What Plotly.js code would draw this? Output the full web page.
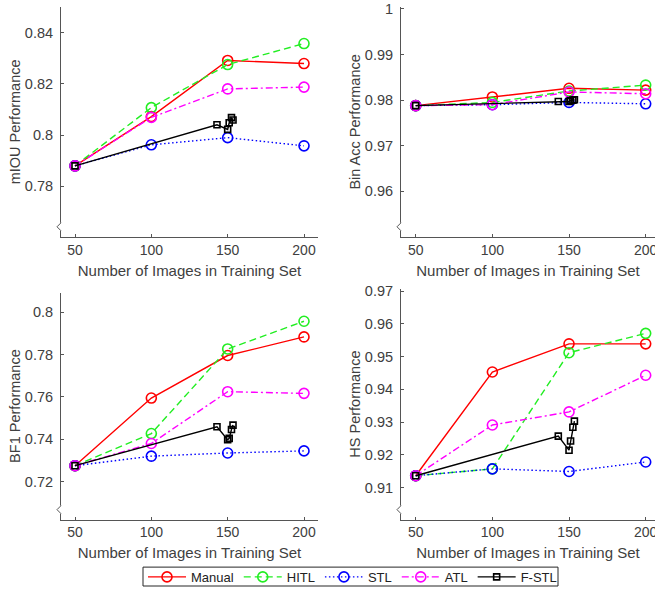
<!DOCTYPE html>
<html><head><meta charset="utf-8">
<script src="https://cdn.plot.ly/plotly-3.0.1.min.js"></script>
<style>html,body{margin:0;padding:0;background:#fff}</style>
</head><body><div id="chart" style="width:655px;height:592px"></div>
<script>
// ---- data ----
const xMain = [50, 100, 150, 200];
const xFstl = [50, 143, 150, 151, 152.5, 153.5];
const seriesNames = ['Manual', 'HITL', 'STL', 'ATL', 'F-STL'];
const xTickVals = [50, 100, 150, 200];

// mIOU
const miouManual = [0.788, 0.8072, 0.8291, 0.8279];
const miouHITL   = [0.788, 0.8107, 0.8275, 0.8357];
const miouSTL    = [0.788, 0.7962, 0.7990, 0.7958];
const miouATL    = [0.788, 0.8069, 0.8180, 0.8187];
const miouFSTL   = [0.788, 0.8040, 0.8022, 0.8048, 0.8068, 0.8059];
const miouTicks  = [0.78, 0.80, 0.82, 0.84];

// Bin Acc
const binManual = [0.9788, 0.9807, 0.9826, 0.9822];
const binHITL   = [0.9788, 0.9795, 0.9820, 0.9833];
const binSTL    = [0.9788, 0.9790, 0.9795, 0.9792];
const binATL    = [0.9788, 0.9790, 0.9818, 0.9814];
const binFSTL   = [0.9788, 0.9797, 0.9797, 0.9799, 0.9800, 0.9801];
const binTicks  = [0.96, 0.97, 0.98, 0.99, 1];

// BF1
const bf1Manual = [0.7275, 0.7595, 0.7796, 0.7884];
const bf1HITL   = [0.7275, 0.7427, 0.7827, 0.7958];
const bf1STL    = [0.7275, 0.7320, 0.7335, 0.7345];
const bf1ATL    = [0.7275, 0.7380, 0.7625, 0.7617];
const bf1FSTL   = [0.7275, 0.7459, 0.7398, 0.7404, 0.7446, 0.7467];
const bf1Ticks  = [0.72, 0.74, 0.76, 0.78, 0.80];

// HS
const hsManual = [0.9136, 0.9453, 0.9539, 0.9539];
const hsHITL   = [0.9136, 0.9157, 0.9512, 0.9571];
const hsSTL    = [0.9136, 0.9157, 0.9149, 0.9178];
const hsATL    = [0.9136, 0.9291, 0.9331, 0.9443];
const hsFSTL   = [0.9136, 0.9257, 0.9214, 0.9242, 0.9284, 0.9303];
const hsTicks  = [0.91, 0.92, 0.93, 0.94, 0.95, 0.96, 0.97];

// ---- styles ----
const styles = {
  'Manual': {color: '#ff0000', dash: 'solid',            symbol: 'circle-open', size: 10},
  'HITL':   {color: '#22ee22', dash: '7px,4px',          symbol: 'circle-open', size: 10},
  'STL':    {color: '#0000ff', dash: '1.5px,2.5px',      symbol: 'circle-open', size: 10},
  'ATL':    {color: '#ff00ff', dash: '7px,3px,2px,3px',  symbol: 'circle-open', size: 10},
  'F-STL':  {color: '#000000', dash: 'solid',            symbol: 'square-open', size: 6}
};

const panels = [
  {ax: '',  data: [miouManual, miouHITL, miouSTL, miouATL, miouFSTL]},
  {ax: '2', data: [binManual, binHITL, binSTL, binATL, binFSTL]},
  {ax: '3', data: [bf1Manual, bf1HITL, bf1STL, bf1ATL, bf1FSTL]},
  {ax: '4', data: [hsManual, hsHITL, hsSTL, hsATL, hsFSTL]}
];

const traces = [];
panels.forEach((p, pi) => {
  seriesNames.forEach((name, si) => {
    const st = styles[name];
    traces.push({
      type: 'scatter', mode: 'lines+markers',
      x: name === 'F-STL' ? xFstl : xMain,
      y: p.data[si],
      name: name, legendgroup: name, showlegend: pi === 0,
      xaxis: 'x' + p.ax, yaxis: 'y' + p.ax,
      line: {color: st.color, dash: st.dash, width: 1.4},
      marker: {symbol: st.symbol, size: st.size, color: st.color, line: {width: 1.6, color: st.color}},
      cliponaxis: false
    });
  });
});

const textCol = '#404040';
const axCol = '#555555';
const font = {family: 'Liberation Sans, Arial, sans-serif', size: 14, color: textCol};

function xa(domain, range) {
  return {domain: domain, range: range, tickvals: xTickVals, ticks: 'inside', ticklen: 3, tickcolor: axCol,
    showline: true, linecolor: axCol, linewidth: 1, showgrid: false, zeroline: false,
    tickfont: {size: 14, color: textCol}, ticklabelstandoff: 0, ticklabeloverflow: 'allow',
    title: {text: 'Number of Images in Training Set', font: {size: 15, color: textCol}, standoff: 8}};
}
function ya(domain, range, ticks, title, anchor) {
  return {domain: domain, range: range, tickvals: ticks, ticks: 'inside', ticklen: 3, tickcolor: axCol,
    showline: true, linecolor: axCol, linewidth: 1, showgrid: false, zeroline: false,
    tickfont: {size: 14.5, color: textCol}, ticklabelstandoff: 4, anchor: anchor,
    title: {text: title, font: {size: 14.5, color: textCol}, standoff: 0}};
}

const W = 655, H = 592;
const topY = [(H - 238) / H, (H - 7) / H];
const blY = [(H - 522.3) / H, (H - 294) / H];
const brY = [(H - 522.3) / H, (H - 290) / H];
const leftX = [61 / W, 318 / W];
const rightX = [401 / W, 1];

const layout = {
  width: W, height: H, margin: {l: 0, r: 0, t: 0, b: 0},
  paper_bgcolor: '#fff', plot_bgcolor: '#fff', font: font,
  xaxis:  Object.assign(xa(leftX, [40.83, 209.17]), {anchor: 'y'}),
  yaxis:  ya(topY, [0.76032, 0.84997], miouTicks, 'mIOU Performance', 'x'),
  xaxis2: Object.assign(xa(rightX, [40.41, 206.07]), {anchor: 'y2'}),
  yaxis2: ya(topY, [0.95003, 1.000436], binTicks, 'Bin Acc Performance', 'x2'),
  xaxis3: Object.assign(xa(leftX, [40.83, 209.17]), {anchor: 'y3'}),
  yaxis3: ya(blY, [0.70198, 0.8094], bf1Ticks, 'BF1 Performance', 'x3'),
  xaxis4: Object.assign(xa(rightX, [40.41, 206.07]), {anchor: 'y4'}),
  yaxis4: ya(brY, [0.90018, 0.9708], hsTicks, 'HS Performance', 'x4'),
  showlegend: true,
  legend: {orientation: 'h', x: 143 / W, y: -0.005, xanchor: 'left', yanchor: 'bottom',
    borderwidth: 0, bgcolor: 'rgba(0,0,0,0)', itemwidth: 38,
    font: {size: 13, color: '#222'}, tracegroupgap: 0},
  shapes: [
    {type: 'rect', xref: 'paper', yref: 'paper', x0: 143 / W, x1: 558 / W, y0: (H - 589) / H, y1: (H - 570) / H,
     line: {color: '#262626', width: 1}, fillcolor: 'rgba(0,0,0,0)', layer: 'below'}
  ]
};

// axis-break marks on the y axes
['', '2', '3', '4'].forEach(a => {
  const common = {xref: 'x' + a + ' domain', yref: 'y' + a + ' domain', xsizemode: 'pixel', ysizemode: 'pixel', xanchor: 0, yanchor: 0};
  layout.shapes.push(Object.assign({type: 'line', x0: 0, x1: 0, y0: 6, y1: 14, line: {color: '#fff', width: 3}}, common));
  layout.shapes.push(Object.assign({type: 'path', path: 'M0,14 L-4,10 L0,6', line: {color: axCol, width: 1}}, common));
});

Plotly.newPlot('chart', traces, layout, {displayModeBar: false, staticPlot: true});
</script>
</body></html>
